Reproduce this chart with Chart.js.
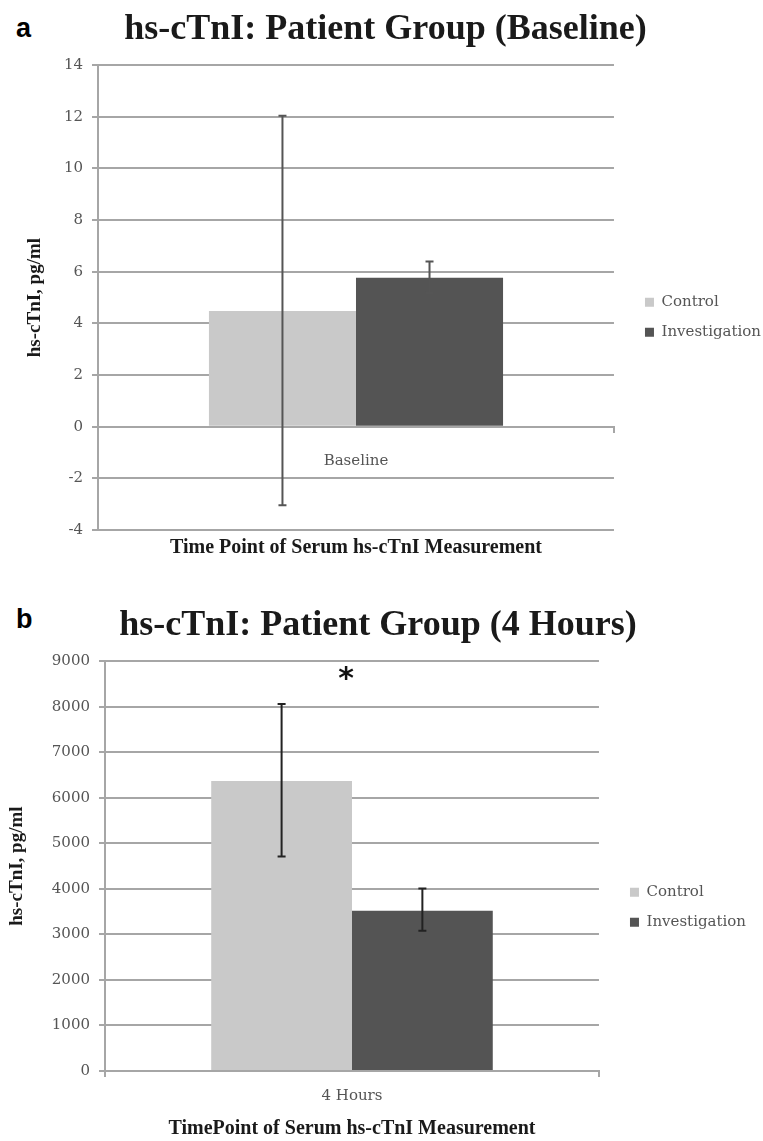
<!DOCTYPE html>
<html>
<head>
<meta charset="utf-8">
<title>hs-cTnI: Patient Group</title>
<script src="https://cdn.jsdelivr.net/npm/chart.js@4.4.1/dist/chart.umd.min.js"></script>
<style>
  body { margin: 0; width: 763px; height: 1141px; background: #fff; position: relative; overflow: hidden; }
  .panel { position: absolute; left: 0; width: 763px; }
  #panel-a { top: 0; height: 560px; }
  #panel-b { top: 596px; height: 545px; }
  .tag { position: absolute; left: 16px; line-height: 1; font: bold 27px "Liberation Sans", Arial, sans-serif; color: #000; }
</style>
</head>
<body>
<div class="tag" style="top:13px">a</div>
<div class="tag" style="top:604px">b</div>
<div class="panel" id="panel-a"><canvas id="chartA" width="763" height="560"></canvas></div>
<div class="panel" id="panel-b"><canvas id="chartB" width="763" height="545"></canvas></div>
<script>
const seriesNames = ['Control', 'Investigation'];

// panel a - baseline
const baselineCategories = ['Baseline'];
const baselineControl = [4.48];
const baselineInvestigation = [5.77];
const baselineControlLow = [-3.04];
const baselineControlHigh = [12.04];
const baselineInvestigationLow = [5.19];
const baselineInvestigationHigh = [6.4];
const baselineTicks = [-4, -2, 0, 2, 4, 6, 8, 10, 12, 14];

// panel b - 4 hours
const hoursCategories = ['4 Hours'];
const hoursControl = [6370];
const hoursInvestigation = [3520];
const hoursControlLow = [4710];
const hoursControlHigh = [8060];
const hoursInvestigationLow = [3080];
const hoursInvestigationHigh = [4010];
const hoursTicks = [0, 1000, 2000, 3000, 4000, 5000, 6000, 7000, 8000, 9000];
const hoursMarks = ['*'];

const SERIF = '"Liberation Serif", "Times New Roman", serif';
const SLAB = '"DejaVu Serif", serif';
const GRID = '#a6a6a6';
const BAR_COLORS = ['#c9c9c9', '#545454'];

// vertical error bars with small caps, drawn over the bars
const errorBars = {
  id: 'errorBars',
  afterDatasetsDraw(chart) {
    const ctx = chart.ctx;
    const y = chart.scales.y;
    chart.data.datasets.forEach((ds, i) => {
      chart.getDatasetMeta(i).data.forEach((bar, j) => {
        const top = y.getPixelForValue(ds.errHigh[j]);
        const bottom = y.getPixelForValue(ds.errLow[j]);
        ctx.save();
        ctx.strokeStyle = ds.errColor;
        ctx.lineWidth = 2;
        ctx.beginPath();
        ctx.moveTo(bar.x, top); ctx.lineTo(bar.x, bottom);
        ctx.moveTo(bar.x - 4, top); ctx.lineTo(bar.x + 4, top);
        ctx.moveTo(bar.x - 4, bottom); ctx.lineTo(bar.x + 4, bottom);
        ctx.stroke();
        ctx.restore();
      });
    });
  }
};

// significance mark above the tallest error bar of a category
const sigMark = {
  id: 'sigMark',
  afterDatasetsDraw(chart, args, opts) {
    if (!opts.marks) return;
    const ctx = chart.ctx;
    const y = chart.scales.y;
    opts.marks.forEach((mark, j) => {
      if (!mark) return;
      const highest = Math.max(...chart.data.datasets.map(ds => ds.errHigh[j]));
      ctx.save();
      ctx.fillStyle = '#111';
      ctx.font = 'bold 30px "DejaVu Sans", sans-serif';
      ctx.textAlign = 'center';
      ctx.textBaseline = 'middle';
      ctx.fillText(mark, chart.scales.x.getPixelForValue(j) - 6, y.getPixelForValue(highest) - 24);
      ctx.restore();
    });
  }
};

function makeChart(id, p) {
  return new Chart(document.getElementById(id), {
    type: 'bar',
    data: {
      labels: p.categories,
      datasets: [
        { label: seriesNames[0], data: p.control, errLow: p.controlLow, errHigh: p.controlHigh,
          errColor: p.errColor, backgroundColor: BAR_COLORS[0], yAxisID: 'y' },
        { label: seriesNames[1], data: p.investigation, errLow: p.investigationLow, errHigh: p.investigationHigh,
          errColor: p.errColor, backgroundColor: BAR_COLORS[1], yAxisID: 'y' }
      ]
    },
    options: {
      responsive: false,
      animation: false,
      devicePixelRatio: 1,
      categoryPercentage: 0.57,
      barPercentage: 1,
      layout: { padding: { top: 0, right: p.padRight, bottom: 0, left: 0 } },
      plugins: {
        title: {
          display: true, text: p.title, color: '#1a1a1a',
          font: { family: SERIF, size: 36, weight: 'bold' }, padding: { top: 8, bottom: 14 }
        },
        subtitle: {
          display: true, position: 'bottom', fullSize: false, text: p.xTitle, color: '#1a1a1a',
          font: { family: SERIF, size: 20, weight: 'bold' }, padding: { top: p.xTitlePad, bottom: 0 }
        },
        legend: {
          position: 'right', fullSize: false, maxWidth: 220,
          title: { display: true, text: '', padding: { top: p.legendShift, bottom: 0 } },
          labels: { boxWidth: 9, boxHeight: 9, padding: 15, color: '#555', font: { family: SLAB, size: 15 } }
        },
        tooltip: { enabled: false },
        sigMark: { marks: p.marks }
      },
      scales: {
        x: {
          position: { y: 0 },
          grid: { drawOnChartArea: false, tickLength: 5, color: GRID, lineWidth: 2 },
          border: { color: GRID, width: 2 },
          ticks: { color: '#555', font: { family: SLAB, size: 15 }, padding: p.xTickPad }
        },
        y: {
          min: p.ticks[0], max: p.ticks[p.ticks.length - 1],
          afterBuildTicks: s => { s.ticks = p.ticks.map(v => ({ value: v })); },
          afterFit: s => { s.width = p.axisLeft; },
          grid: { color: GRID, lineWidth: 2, tickLength: 6 },
          border: { color: GRID, width: 2 },
          ticks: { color: '#555', font: { family: SLAB, size: 15 }, padding: 9, callback: v => String(v) },
          title: {
            display: true, text: 'hs-cTnI, pg/ml', color: '#1a1a1a',
            font: { family: SERIF, size: 19, weight: 'bold' }, padding: { top: p.yTitlePad, bottom: 0 }
          }
        },
        gap: {
          type: 'linear', position: 'right', display: true,
          grid: { display: false }, border: { display: false }, ticks: { display: false },
          afterFit: s => { s.width = 16; }
        }
      }
    },
    plugins: [errorBars, sigMark]
  });
}

makeChart('chartA', {
  title: 'hs-cTnI: Patient Group (Baseline)',
  xTitle: 'Time Point of Serum hs-cTnI Measurement',
  categories: baselineCategories,
  control: baselineControl, controlLow: baselineControlLow, controlHigh: baselineControlHigh,
  investigation: baselineInvestigation, investigationLow: baselineInvestigationLow, investigationHigh: baselineInvestigationHigh,
  ticks: baselineTicks, marks: null, errColor: '#555',
  axisLeft: 98, yTitlePad: 24, xTickPad: 20, xTitlePad: 6, legendShift: 25, padRight: -8
});

makeChart('chartB', {
  title: 'hs-cTnI: Patient Group (4 Hours)',
  xTitle: 'TimePoint of Serum hs-cTnI Measurement',
  categories: hoursCategories,
  control: hoursControl, controlLow: hoursControlLow, controlHigh: hoursControlHigh,
  investigation: hoursInvestigation, investigationLow: hoursInvestigationLow, investigationHigh: hoursInvestigationHigh,
  ticks: hoursTicks, marks: hoursMarks, errColor: '#222',
  axisLeft: 105, yTitlePad: 6, xTickPad: 11, xTitlePad: 46, legendShift: 68, padRight: 7
});
</script>
</body>
</html>
